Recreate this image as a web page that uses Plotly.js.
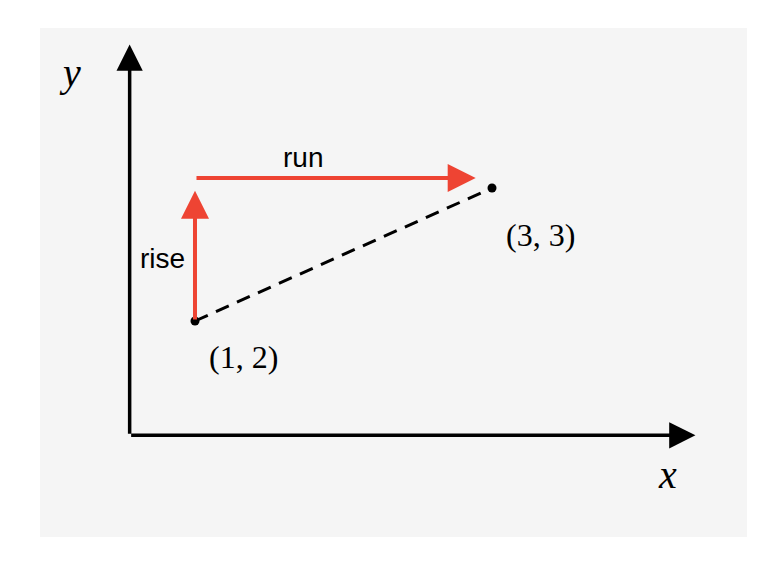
<!DOCTYPE html>
<html><head><script src="https://cdn.plot.ly/plotly-3.0.1.min.js"></script>
<style>body{margin:0}</style></head><body><div id="c" style="width:781px;height:565px"></div>
<script>
const ptX=[1,3], ptY=[2,3];
const ptLabels=["(1, 2)","(3, 3)"];
const origin=[0.56,1.14], xEnd=4.37, yEnd=4.08;
const riseTop=2.98, runY=3.075, runEnd=2.89;
const W=781,H=565;
const px=(x)=>x/W, py=(y)=>1-y/H;
const serif="Liberation Serif, DejaVu Serif, serif", sans="Liberation Sans, Arial, sans-serif";
const traces=[
 {x:ptX,y:ptY,mode:'lines',line:{color:'black',width:3,dash:'14px,9px'},hoverinfo:'skip'},
 {x:ptX,y:ptY,mode:'markers',marker:{color:'black',size:9},hoverinfo:'skip'}
];
const arrow=(x,y,ax,ay,color,w,s)=>({x:x,y:y,ax:ax,ay:ay,xref:'x',yref:'y',axref:'x',ayref:'y',text:'',showarrow:true,arrowhead:2,arrowwidth:w,arrowsize:s,arrowcolor:color});
const lab=(x,y,t,f,s)=>({x:px(x),y:py(y),xref:'paper',yref:'paper',xanchor:'center',yanchor:'middle',text:t,showarrow:false,font:{family:f,size:s,color:'black'}});
const layout={width:W,height:H,margin:{l:0,r:0,t:0,b:0},paper_bgcolor:'white',plot_bgcolor:'rgba(0,0,0,0)',showlegend:false,
 xaxis:{range:[-0.313,4.946],visible:false,fixedrange:true},
 yaxis:{range:[0.165,4.414],visible:false,fixedrange:true},
 shapes:[{type:'rect',xref:'paper',yref:'paper',x0:px(40),x1:px(747),y0:py(537),y1:py(28),fillcolor:'#f5f5f5',line:{width:0},layer:'below'}],
 annotations:[
  arrow(origin[0],yEnd,origin[0],origin[1],'black',3.5,1.5),
  arrow(xEnd,origin[1],origin[0],origin[1],'black',3.5,1.5),
  arrow(ptX[0],riseTop,ptX[0],ptY[0],'#ee4433',4,1.4),
  arrow(runEnd,runY,ptX[0],runY,'#ee4433',4,1.4),
  lab(70,72,'<i>y</i>',serif,40),
  lab(667,474,'<i>x</i>',serif,40),
  lab(243,357,ptLabels[0],serif,32),
  lab(540,235,ptLabels[1],serif,32),
  lab(303,157,'run',sans,28),
  lab(162,258,'rise',sans,28)
 ]};
Plotly.newPlot('c',traces,layout,{displayModeBar:false,staticPlot:true});
</script></body></html>
